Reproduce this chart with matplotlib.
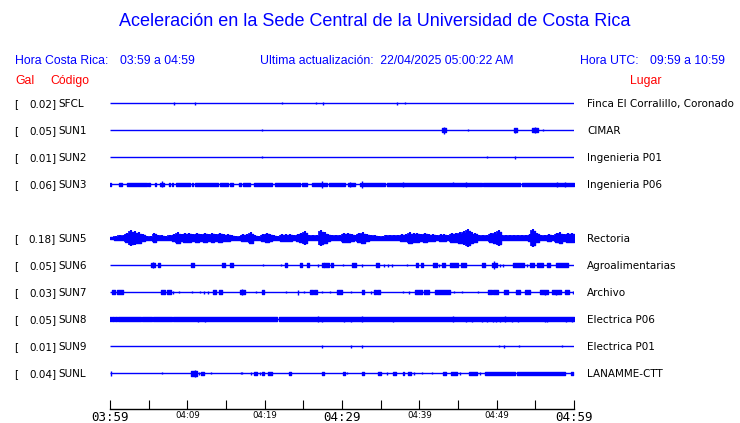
import matplotlib
matplotlib.use('Agg')
from matplotlib import pyplot as plt
from matplotlib import transforms
import numpy as np

# Stations, top to bottom (row 4 is empty: SUN4 has no data)
rows = [0, 1, 2, 3, 5, 6, 7, 8, 9, 10]
codes = ['SFCL', 'SUN1', 'SUN2', 'SUN3', 'SUN5', 'SUN6', 'SUN7', 'SUN8', 'SUN9', 'SUNL']
gal = ['0.02', '0.05', '0.01', '0.06', '0.18', '0.05', '0.03', '0.05', '0.01', '0.04']
places = ['Finca El Corralillo, Coronado', 'CIMAR', 'Ingenieria P01', 'Ingenieria P06',
          'Rectoria', 'Agroalimentarias', 'Archivo', 'Electrica P06', 'Electrica P01',
          'LANAMME-CTT']

# Time axis (minutes after 03:59)
tick_min = [0, 5, 10, 15, 20, 25, 30, 35, 40, 45, 50, 55, 60]
tick_labels = ['03:59', '', '04:09', '', '04:19', '', '04:29', '', '04:39', '', '04:49', '', '04:59']
big_labels = ['03:59', '04:29', '04:59']

# Trace activity: bursts (start, end, half-amplitude) and spikes (time, half-amplitude)
bursts = {
    'SFCL': [],
    'SUN1': [(42.95, 43.47, 2), (52.2, 52.6, 2), (54.6, 55.3, 2)],
    'SUN2': [],
    'SUN3': [(0.0, 0.13, 1.5), (1.16, 1.59, 1.5), (2.15, 4.74, 1.5), (4.96, 5.13, 1.5),
             (5.82, 5.9, 1.5), (6.46, 6.94, 1.5), (7.63, 7.76, 1.5), (7.97, 8.1, 1.5),
             (8.53, 10.34, 1.5), (10.56, 10.77, 1.5), (10.99, 14.0, 1.5), (14.22, 15.3, 1.5),
             (15.52, 15.86, 1.5), (16.72, 16.94, 1.5), (17.15, 18.1, 1.5), (18.62, 20.9, 1.5),
             (21.33, 24.57, 1.5), (24.87, 25.52, 1.5), (26.08, 28.02, 1.5), (28.32, 30.39, 1.5),
             (30.82, 31.68, 1.5), (32.33, 35.56, 1.5), (35.78, 48.06, 1.5), (48.27, 53.0, 1.5),
             (53.23, 60.0, 1.5)],
    'SUN6': [(5.3, 5.82, 1.7), (6.16, 6.46, 1.7), (10.47, 10.86, 1.7), (14.44, 14.87, 1.7),
             (15.52, 15.9, 1.7), (22.63, 22.88, 1.7), (24.57, 24.82, 1.7), (25.43, 25.73, 1.7),
             (27.37, 27.63, 1.7), (27.71, 28.32, 1.7), (28.57, 28.83, 1.7), (31.25, 31.76, 1.7),
             (34.39, 34.78, 1.7), (39.52, 39.78, 1.7), (40.17, 40.43, 1.7), (41.81, 42.28, 1.7),
             (42.97, 43.32, 1.7), (43.96, 44.95, 1.7), (45.38, 45.99, 1.7), (48.06, 48.49, 1.7),
             (49.35, 50.0, 1.7), (52.15, 53.57, 1.7), (54.31, 54.82, 1.7), (55.17, 56.03, 1.7),
             (56.46, 56.89, 1.7), (57.62, 59.26, 1.7)],
    'SUN7': [(0.3, 0.64, 1.7), (0.86, 1.72, 1.7), (6.59, 7.11, 1.7), (7.41, 7.88, 1.7),
             (13.32, 13.66, 1.7), (14.09, 14.44, 1.7), (16.81, 17.45, 2.2), (19.61, 19.87, 1.7),
             (25.86, 26.25, 1.7), (26.42, 26.76, 1.7), (29.39, 29.95, 1.7), (32.54, 32.8, 1.7),
             (34.18, 34.35, 1.7), (34.57, 34.91, 1.7), (39.44, 40.3, 1.7), (40.6, 41.25, 1.7),
             (42.02, 43.96, 1.7), (48.83, 49.35, 1.7), (49.57, 50.21, 1.7), (50.94, 51.5, 1.7),
             (52.45, 53.01, 1.7), (53.66, 54.31, 1.7), (55.6, 56.68, 1.7), (57.11, 58.32, 1.7),
             (58.83, 59.35, 1.7)],
    'SUN8': [(0.0, 0.13, 1.7), (0.3, 0.47, 1.7), (0.64, 0.86, 1.7), (1.07, 4.01, 1.7),
             (4.18, 5.39, 1.7), (5.6, 7.97, 1.7), (8.19, 21.55, 1.7), (21.85, 60.0, 1.7)],
    'SUN9': [],
    'SUNL': [(10.47, 11.2, 2.5), (11.76, 12.11, 1.5), (18.66, 19.0, 1.5), (19.7, 19.96, 1.5),
             (20.47, 20.99, 1.5), (23.14, 23.4, 1.5), (27.41, 27.63, 1.5), (30.13, 30.39, 1.5),
             (32.59, 32.89, 1.5), (34.61, 35.04, 1.5), (36.6, 37.0, 1.5), (37.84, 38.06, 1.5),
             (38.57, 38.92, 1.5), (43.1, 43.5, 1.5), (44.1, 44.83, 1.5), (46.4, 47.4, 1.5),
             (48.49, 52.37, 1.5), (52.6, 58.83, 1.5), (59.6, 59.9, 1.5)],
}
spikes = {
    'SFCL': [(8.3, 1.5), (11.0, 1.5), (22.3, 1), (26.6, 1), (27.6, 1.5), (37.1, 1.5), (38.2, 1)],
    'SUN1': [(19.7, 1), (43.2, 3.5), (46.3, 1), (52.4, 2.5), (55.0, 3), (56.0, 1)],
    'SUN2': [(19.7, 1), (48.7, 1), (52.4, 1.5)],
    'SUN3': [(6.7, 3), (27.37, 3.5), (31.03, 2.5), (32.63, 3.5), (37.84, 2.5), (44.4, 2),
             (46.0, 2.5), (57.8, 2.5), (58.8, 2.5)],
    'SUN6': [(5.51, 3), (19.83, 1), (22.11, 1), (26.94, 1.5), (30.17, 1), (32.63, 1.5),
             (35.47, 1.5), (35.9, 1.5), (36.5, 1.5), (38.45, 1), (42.58, 1.5), (49.7, 4),
             (50.43, 1.5), (50.77, 1.5), (53.87, 1.5)],
    'SUN7': [(8.1, 1.5), (8.92, 1), (10.64, 1), (11.63, 1), (12.19, 1.5), (12.63, 1.5),
             (17.02, 3), (18.83, 1), (22.76, 1), (24.26, 2.5), (25.13, 1), (27.45, 1),
             (28.49, 1), (31.12, 1), (33.75, 1.5), (37.93, 1), (38.66, 1.5), (44.48, 1),
             (45.56, 1), (47.63, 1), (56.25, 2.5), (57.62, 2.5), (59.91, 1.5)],
    'SUN8': [(11.42, 2.5), (12.28, 2.5), (26.94, 3), (27.45, 2.5), (30.3, 2.5), (31.12, 2.5),
             (32.63, 3), (36.64, 2.5), (38.88, 2), (44.4, 3), (46.0, 2.5), (46.77, 2.5),
             (48.06, 2.5), (48.7, 2.5), (49.57, 2.5), (49.87, 2.5), (50.43, 2.5), (51.07, 3),
             (51.94, 2.5), (52.8, 2.5), (54.22, 2), (56.25, 2.5), (56.55, 2.5), (58.92, 2.5),
             (59.7, 2.5)],
    'SUN9': [(27.45, 1.5), (31.12, 1.5), (32.63, 1.5), (50.34, 1), (50.99, 1.5), (52.93, 1),
             (58.49, 1)],
    'SUNL': [(0.13, 2.5), (6.68, 1), (11.0, 3.5), (11.5, 1.5), (13.06, 1), (16.9, 1),
             (17.1, 1), (18.2, 1.5), (19.4, 1.5), (30.69, 1), (35.78, 1.5), (39.27, 1.5),
             (40.38, 1), (41.59, 1), (45.3, 1.5), (47.84, 1.5)],
}

# SUN5 (Rectoria) envelope, half-amplitude per half minute
sun5_env = [1.5, 2, 3, 3, 5, 8, 7, 6, 4, 2, 2, 5, 3, 3, 2, 3, 4, 6, 4, 5,
            5, 4, 5, 4, 5, 4, 5, 4, 5, 4, 4, 3, 2, 2, 4, 4, 6, 3, 2, 4,
            5, 4, 3, 2, 4, 4, 4, 3, 4, 5, 7, 3, 3, 3, 8, 6, 4, 3, 3, 3,
            5, 5, 4, 3, 5, 6, 4, 3, 3, 2, 2, 3, 3, 3, 3, 4, 4, 6, 5, 5,
            4, 5, 4, 4, 3, 4, 4, 3, 5, 5, 6, 7, 9, 6, 5, 3, 3, 3, 5, 6,
            8, 3, 3, 3, 3, 3, 3, 3, 4, 9, 5, 3, 3, 4, 3, 5, 6, 4, 5, 5]

blue = '#0000ff'
red = '#ff0000'
W, H = 740, 423
px = 1.0 / 27  # one pixel in row units

fig = plt.figure(figsize=(W / 100, H / 100), dpi=100)
ax = fig.add_axes([110 / W, 14 / H, 464 / W, 319.5 / H])
ax.set_xlim(0, 60)
ax.set_ylim(11.333, -0.5)

for code, r in zip(codes, rows):
    ax.hlines(r, 0, 60, color=blue, lw=1.0)
    for t0, t1, a in bursts.get(code, []):
        ax.fill_between([t0, t1], r - a * px, r + a * px, color=blue, lw=1.0)
    for t, a in spikes.get(code, []):
        ax.vlines(t, r - a * px, r + a * px, color=blue, lw=1.0)

r5 = rows[codes.index('SUN5')]
env = np.array(sun5_env) * px
tb = np.arange(len(env)) * 0.5
ax.fill_between(np.append(tb, 60), r5 - np.append(env, env[-1]) * 0.75,
                r5 + np.append(env, env[-1]) * 0.75, step='post', color=blue, lw=1.0)
ax.vlines(tb + 0.25, r5 - env, r5 + env, color=blue, lw=1.5)
ax.vlines(tb, r5 - env * 0.85, r5 + env * 0.85, color=blue, lw=1.2)

# axis styling
for s in ['left', 'right', 'top']:
    ax.spines[s].set_visible(False)
ax.spines['bottom'].set_linewidth(1.0)
ax.set_yticks([])
ax.set_xticks(tick_min)
ax.set_xticklabels(tick_labels)
ax.tick_params(axis='x', direction='in', length=6.2, width=0.8, pad=1.5)
for lbl in ax.get_xticklabels():
    if lbl.get_text() in big_labels:
        lbl.set_fontfamily('DejaVu Sans Mono')
        lbl.set_fontsize(9)
    else:
        lbl.set_fontfamily('DejaVu Sans')
        lbl.set_fontsize(6.2)

# row labels
tr = transforms.blended_transform_factory(fig.transFigure, ax.transData)
for code, r, g, p in zip(codes, rows, gal, places):
    ax.text(14 / W, r + 0.03, '[', transform=tr, fontsize=7.5, va='center', ha='left')
    ax.text(56 / W, r + 0.03, g + ']', transform=tr, fontsize=7.5, va='center', ha='right')
    ax.text(58 / W, r + 0.03, code, transform=tr, fontsize=7.5, va='center', ha='left')
    ax.text(587 / W, r + 0.03, p, transform=tr, fontsize=7.5, va='center', ha='left')

# header
hf = 'Liberation Sans'
fig.text(375 / W, 1 - 22 / H, 'Aceleración en la Sede Central de la Universidad de Costa Rica',
         color=blue, fontsize=13, family=hf, ha='center', va='center')
fig.text(15 / W, 1 - 61 / H, 'Hora Costa Rica:', color=blue, fontsize=8.8, family=hf, va='center')
fig.text(120 / W, 1 - 61 / H, '03:59 a 04:59', color=blue, fontsize=8.8, family=hf, va='center')
fig.text(260 / W, 1 - 61 / H, 'Ultima actualización:  22/04/2025 05:00:22 AM', color=blue,
         fontsize=8.8, family=hf, va='center')
fig.text(580 / W, 1 - 61 / H, 'Hora UTC:', color=blue, fontsize=8.8, family=hf, va='center')
fig.text(650 / W, 1 - 61 / H, '09:59 a 10:59', color=blue, fontsize=8.8, family=hf, va='center')
fig.text(15 / W, 1 - 81 / H, 'Gal', color=red, fontsize=8.8, family=hf, va='center')
fig.text(50 / W, 1 - 81 / H, 'Código', color=red, fontsize=8.8, family=hf, va='center')
fig.text(630 / W, 1 - 81 / H, 'Lugar', color=red, fontsize=8.8, family=hf, va='center')

fig.savefig('out.png', dpi=100)
